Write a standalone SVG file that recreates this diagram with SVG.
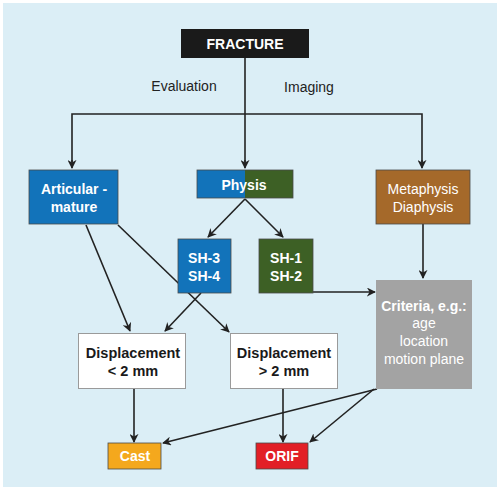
<svg xmlns="http://www.w3.org/2000/svg" width="500" height="494" viewBox="0 0 500 494">
<style>
text{font-family:"Liberation Sans",Arial,sans-serif;text-anchor:middle}
.w{fill:#fff;font-weight:bold;font-size:14px}
.n{fill:#fff;font-size:14px}
.k{fill:#1a1a1a;font-weight:bold;font-size:14.5px}
.lbl{fill:#222;font-size:14px}
.c{fill:none;stroke:#222;stroke-width:1.6}
.bx{stroke:#4a4a4a;stroke-width:0.8}
</style>
<defs>
<marker id="ah" viewBox="0 0 10 10" refX="9" refY="5" markerWidth="9" markerHeight="9" markerUnits="userSpaceOnUse" orient="auto">
<path d="M0,0 L10,5 L0,10 L3,5 Z" fill="#222"/>
</marker>
</defs>
<rect x="0" y="0" width="500" height="494" fill="#ffffff"/>
<rect x="3" y="3" width="494" height="484" fill="#dbeef6"/>

<g id="connectors">
<polyline class="c" points="245,58 245,162"/>
<polyline class="c" points="72,162 72,114 422,114 422,162"/>
<path class="c" d="M72,160 L72,168" marker-end="url(#ah)"/>
<path class="c" d="M245,160 L245,168" marker-end="url(#ah)"/>
<path class="c" d="M422,160 L422,168" marker-end="url(#ah)"/>
<path class="c" d="M245,199 L208,237" marker-end="url(#ah)"/>
<path class="c" d="M245,199 L283,237" marker-end="url(#ah)"/>
<path class="c" d="M423,224 L423,278" marker-end="url(#ah)"/>
<path class="c" d="M313,292 L375,292" marker-end="url(#ah)"/>
<path class="c" d="M86,225 L130,331" marker-end="url(#ah)"/>
<path class="c" d="M118,225 L229,332" marker-end="url(#ah)"/>
<path class="c" d="M201,293 L165,331" marker-end="url(#ah)"/>
<path class="c" d="M134,388 L134,442" marker-end="url(#ah)"/>
<path class="c" d="M283,388 L283,442" marker-end="url(#ah)"/>
<path class="c" d="M377,389 L163,443" marker-end="url(#ah)"/>
<path class="c" d="M374,389 L310,442" marker-end="url(#ah)"/>
</g>

<text class="lbl" x="184" y="91">Evaluation</text>
<text class="lbl" x="309" y="92">Imaging</text>

<g id="fracture">
<rect x="181" y="29" width="128" height="29" fill="#1a1a1a"/>
<text class="w" x="245" y="49" font-size="14.5">FRACTURE</text>
</g>
<g id="articular">
<rect class="bx" x="29" y="170" width="89" height="54" fill="#1273ba"/>
<text class="w" x="74" y="194">Articular -</text>
<text class="w" x="74" y="212">mature</text>
</g>
<g id="physis">
<rect x="197" y="170" width="48" height="28" fill="#1273ba"/>
<rect x="245" y="170" width="48" height="28" fill="#3d6025"/>
<rect class="bx" x="197" y="170" width="96" height="28" fill="none"/>
<text class="w" x="244" y="190">Physis</text>
</g>
<g id="metaphysis">
<rect class="bx" x="376" y="170" width="94" height="54" fill="#a5692a"/>
<text class="n" x="423" y="194">Metaphysis</text>
<text class="n" x="423" y="212">Diaphysis</text>
</g>
<g id="sh34">
<rect class="bx" x="178" y="239" width="53" height="54" fill="#1273ba"/>
<text class="w" x="204" y="263">SH-3</text>
<text class="w" x="204" y="281">SH-4</text>
</g>
<g id="sh12">
<rect class="bx" x="259" y="239" width="54" height="54" fill="#3d6025"/>
<text class="w" x="286" y="263">SH-1</text>
<text class="w" x="286" y="281">SH-2</text>
</g>
<g id="criteria">
<rect x="376" y="280" width="96" height="109" fill="#a3a3a3"/>
<text class="w" x="424" y="311">Criteria, e.g.:</text>
<text class="n" x="424" y="328">age</text>
<text class="n" x="424" y="346">location</text>
<text class="n" x="424" y="364">motion plane</text>
</g>
<g id="disp-lt">
<rect x="78.5" y="333.5" width="107" height="55" fill="#ffffff" stroke="#9a9a9a" stroke-width="1"/>
<text class="k" x="133" y="358">Displacement</text>
<text class="k" x="133" y="376">&lt; 2 mm</text>
</g>
<g id="disp-gt">
<rect x="230.5" y="333.5" width="107" height="55" fill="#ffffff" stroke="#9a9a9a" stroke-width="1"/>
<text class="k" x="284" y="358">Displacement</text>
<text class="k" x="284" y="376">&gt; 2 mm</text>
</g>
<g id="cast">
<rect class="bx" x="108" y="443" width="53" height="26" fill="#f4a81d"/>
<text class="w" x="135" y="461">Cast</text>
</g>
<g id="orif">
<rect class="bx" x="256" y="443" width="52" height="26" fill="#e21f26"/>
<text class="w" x="282" y="461">ORIF</text>
</g>
</svg>
